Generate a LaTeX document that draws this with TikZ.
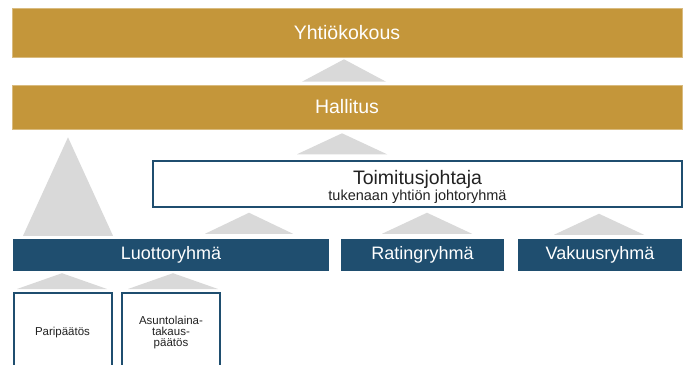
\documentclass[tikz,border=0pt]{standalone}
\usepackage{fontspec}
\setmainfont{Liberation Sans}
\usetikzlibrary{calc}
\definecolor{ochre}{HTML}{C4963A}
\definecolor{navy}{HTML}{1F4E6F}
\definecolor{tgray}{HTML}{D9D9D9}
\definecolor{txtdark}{HTML}{222222}

% upward triangle: x centre, half width, lower node, upper node, base gap, apex gap
\newcommand{\uptri}[6]{%
  \fill[tgray] ([yshift=#5pt]#1-#2,0 |- #3.north) -- ([yshift=-#6pt]#1,0 |- #4.south)
    -- ([yshift=#5pt]#1+#2,0 |- #3.north) -- cycle;}

\begin{document}
\begin{tikzpicture}[x=1pt, y=-1pt,
  goldbox/.style={fill=ochre, draw=ochre!65!white, line width=0.6pt, text=white,
    font=\fontsize{19.5}{22}\selectfont, inner sep=0pt},
  bluebox/.style={fill=navy, text=white, font=\fontsize{18}{20}\selectfont,
    inner sep=0pt, minimum height=32pt},
  smallbox/.style={draw=navy, line width=2pt, fill=white, text=txtdark, align=center,
    font=\fontsize{11.5}{11.4}\selectfont, inner sep=0pt, minimum width=98pt, minimum height=79pt}]

% Background
\useasboundingbox (0,0) rectangle (687,364);
\clip (0,0) rectangle (687,364);
\fill[white] (0,0) rectangle (687,364);

% Top levels
\node[goldbox, minimum width=670pt, minimum height=49pt] (yhtio) at (347,32.5) {Yhtiökokous};
\node[goldbox, minimum width=670pt, minimum height=44pt] (hallitus) at (347,107) {Hallitus};

% Managing director
\node[draw=navy, line width=1.5pt, fill=white, text=txtdark, align=center,
      minimum width=529pt, minimum height=46pt, inner sep=0pt,
      font=\fontsize{14.5}{15.5}\selectfont] (tj) at (417.5,184)
      {\rule{0pt}{20pt}{\fontsize{19.5}{15.5}\selectfont Toimitusjohtaja}\\tukenaan yhtiön johtoryhmä};

% Groups
\node[bluebox, minimum width=316pt] (luotto) at (171,255) {Luottoryhmä};
\node[bluebox, minimum width=163pt] (rating) at (422.5,255) {Ratingryhmä};
\node[bluebox, minimum width=164pt] (vakuus) at (600,255) {Vakuusryhmä};

% Decisions
\node[smallbox] (pari) at (62.5,332.5) {Paripäätös};
\node[smallbox] (asunto) at (171,332.5) {Asuntolaina-\\takaus-\\päätös};

% Triangles
\uptri{344}{42}{hallitus}{yhtio}{3}{2}
\uptri{342}{45}{tj}{hallitus}{6}{4}
\uptri{68}{45}{luotto}{hallitus}{3}{8}
\uptri{249}{44}{luotto}{tj}{5}{5}
\uptri{427}{45}{rating}{tj}{5}{5}
\uptri{599}{45}{vakuus}{tj}{4}{6}
\uptri{62}{45}{pari}{luotto}{3}{2}
\uptri{173}{45}{asunto}{luotto}{3}{2}

\end{tikzpicture}
\end{document}
